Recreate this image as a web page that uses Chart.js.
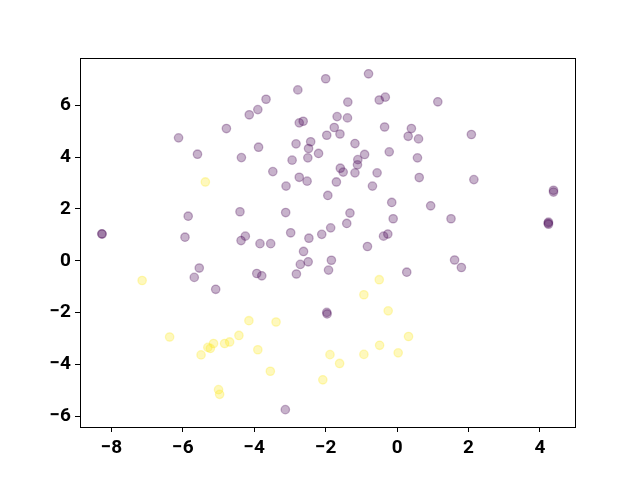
<!DOCTYPE html>
<html>
<head>
<meta charset="utf-8">
<script src="https://cdn.jsdelivr.net/npm/chart.js@4/dist/chart.umd.min.js"></script>
<style>
  html, body { margin: 0; padding: 0; background: #ffffff; }
  canvas { display: block; }
</style>
</head>
<body>
<canvas id="scatter" width="640" height="480"></canvas>
<script>
// class 0 (purple) points
var purpleX = [-2.00, -2.78, -3.67, -3.90, -4.14, -2.74, -2.63, -4.78, -1.97, -6.12,
  -2.42, -2.83, -2.48, -2.20, -5.59, -3.88, -2.50, -4.36, -2.94, -3.48,
  -2.74, -2.52, -3.11, -1.94, -4.40, -3.12, -5.85, -8.27, -8.26, -5.94,
  -2.98, -4.25, -4.37, -2.47, -2.11, -3.84, -3.54, -0.80, -1.38, -0.50,
  -0.33, 1.14, -1.68, -1.39, -1.76, -0.35, 0.40, -1.60, 0.31, 0.60,
  2.08, -1.18, -0.91, -0.22, -1.10, -1.11, -1.59, -1.51, -1.18, -0.56,
  0.57, 0.62, 2.15, -1.70, -0.69, -0.15, 0.94, 4.38, 4.38, -1.32,
  -1.41, -0.11, 1.51, -1.86, -0.38, -0.26, 4.24, 4.24, 4.23, -0.83,
  -2.62, -2.71, -2.49, -1.84, -1.92, -2.82, -3.93, -3.79, -5.54, -5.68,
  -5.08, -1.97, -1.96, -3.13, 1.61, 1.80, 0.27];
var purpleY = [7.02, 6.59, 6.23, 5.83, 5.63, 5.32, 5.38, 5.10, 4.84, 4.74,
  4.59, 4.51, 4.33, 4.14, 4.11, 4.38, 3.97, 3.98, 3.88, 3.44,
  3.22, 3.07, 2.88, 2.52, 1.89, 1.86, 1.72, 1.04, 1.03, 0.91,
  1.08, 0.95, 0.78, 0.87, 1.02, 0.66, 0.66, 7.21, 6.12, 6.20,
  6.31, 6.13, 5.56, 5.51, 5.14, 5.16, 5.10, 4.89, 4.80, 4.70,
  4.87, 4.52, 4.10, 4.20, 3.90, 3.70, 3.57, 3.42, 3.39, 3.39,
  3.97, 3.21, 3.13, 3.04, 2.88, 2.25, 2.12, 2.72, 2.65, 1.84,
  1.44, 1.62, 1.62, 1.27, 0.95, 1.03, 1.49, 1.41, 1.45, 0.55,
  0.36, -0.14, -0.04, 0.02, -0.36, -0.51, -0.49, -0.58, -0.28, -0.64,
  -1.10, -1.99, -2.05, -5.74, 0.03, -0.26, -0.44];

// class 1 (yellow) points
var yellowX = [-5.37, -7.14, -4.15, -3.39, -6.37, -4.43, -5.14, -5.30, -5.23, -4.83,
  -4.69, -5.49, -3.90, -3.55, -5.00, -4.97, -2.08, -1.88, -0.50, -0.93,
  -0.25, 0.32, -0.49, -0.93, 0.03, -1.61];
var yellowY = [3.04, -0.76, -2.31, -2.36, -2.94, -2.88, -3.19, -3.34, -3.38, -3.19,
  -3.13, -3.63, -3.43, -4.26, -4.97, -5.15, -4.59, -3.62, -0.73, -1.31,
  -1.93, -2.92, -3.26, -3.61, -3.55, -3.96];

var xTicks = [-8, -6, -4, -2, 0, 2, 4];
var yTicks = [-6, -4, -2, 0, 2, 4, 6];

function toPoints(xs, ys) {
  return xs.map(function (x, i) { return { x: x, y: ys[i] }; });
}

// box round the plot area, like matplotlib spines
var frame = {
  id: 'frame',
  afterDatasetsDraw: function (chart) {
    var a = chart.chartArea, c = chart.ctx;
    c.save();
    c.strokeStyle = '#000';
    c.lineWidth = 1;
    c.strokeRect(Math.round(a.left) + 0.5, Math.round(a.top) + 0.5,
      Math.round(a.right - a.left) - 1, Math.round(a.bottom - a.top));
    c.restore();
  }
};

var tickFont = { family: 'Roboto', size: 19, weight: 'bold' };
function minus(v) { return String(v).replace('-', '\u2212'); }

new Chart(document.getElementById('scatter').getContext('2d'), {
  type: 'scatter',
  data: {
    datasets: [{
      data: toPoints(purpleX, purpleY),
      backgroundColor: 'rgba(68, 1, 84, 0.3)',
      borderColor: 'rgba(68, 1, 84, 0.3)',
      borderWidth: 1.3,
      pointRadius: 4.2,
      pointHoverRadius: 4.2
    }, {
      data: toPoints(yellowX, yellowY),
      backgroundColor: 'rgba(253, 231, 37, 0.3)',
      borderColor: 'rgba(253, 231, 37, 0.3)',
      borderWidth: 1.3,
      pointRadius: 4.2,
      pointHoverRadius: 4.2
    }]
  },
  options: {
    responsive: false,
    animation: false,
    layout: { padding: { left: 0, top: 58, right: 64, bottom: 0 } },
    plugins: { legend: { display: false }, tooltip: { enabled: false } },
    scales: {
      x: {
        min: -8.88, max: 5.01,
        afterBuildTicks: function (s) { s.ticks = xTicks.map(function (v) { return { value: v }; }); },
        afterFit: function (s) { s.height = 53; },
        grid: { drawOnChartArea: false, tickLength: 5, color: '#000' },
        border: { display: false },
        ticks: { color: '#000', font: tickFont, padding: 5, maxRotation: 0, callback: minus }
      },
      y: {
        min: -6.41, max: 7.82,
        afterBuildTicks: function (s) { s.ticks = yTicks.map(function (v) { return { value: v }; }); },
        afterFit: function (s) { s.width = 80; },
        grid: { drawOnChartArea: false, tickLength: 5, color: '#000' },
        border: { display: false },
        ticks: { color: '#000', font: tickFont, padding: 4, callback: minus }
      }
    }
  },
  plugins: [frame]
});
</script>
</body>
</html>
